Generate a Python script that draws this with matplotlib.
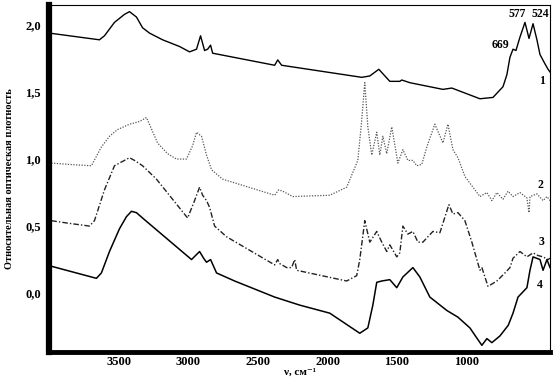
import numpy as np
import matplotlib
matplotlib.use("Agg")
import matplotlib.pyplot as plt

# wavenumber (cm-1) and relative optical density
wn1 = [4000, 3640, 3604, 3532, 3460, 3424, 3374, 3330, 3280, 3186, 3064, 2992, 2942, 2913,
       2884, 2862, 2841, 2826, 2380, 2358, 2330, 1754, 1696, 1631, 1552, 1480, 1466, 1408,
       1170, 1106, 904, 810, 738, 710, 688, 666, 645, 616, 580, 551, 522, 494, 472, 436, 414, 400]
od1 = [1.94, 1.89, 1.92, 2.02, 2.08, 2.10, 2.06, 1.98, 1.94, 1.89, 1.84, 1.80, 1.82, 1.92,
       1.81, 1.82, 1.85, 1.79, 1.70, 1.74, 1.70, 1.61, 1.62, 1.67, 1.58, 1.58, 1.59, 1.57,
       1.52, 1.53, 1.45, 1.46, 1.54, 1.63, 1.76, 1.82, 1.81, 1.91, 2.02, 1.90, 2.01, 1.89,
       1.78, 1.71, 1.67, 1.65]

wn2 = [3986, 3856, 3698, 3626, 3568, 3510, 3424, 3352, 3302, 3222, 3150, 3086, 3014,
       2970, 2942, 2906, 2870, 2834, 2754, 2380, 2351, 2322, 2250, 1984, 1862, 1782,
       1754, 1732, 1710, 1682, 1646, 1624, 1602, 1574, 1538, 1494, 1458, 1422, 1386,
       1358, 1322, 1286, 1228, 1170, 1134, 1098, 1062, 1012, 954, 904, 854, 818, 782,
       738, 702, 666, 616, 566, 551, 544, 494, 450, 422, 400]
od2 = [0.97, 0.96, 0.95, 1.09, 1.17, 1.22, 1.26, 1.28, 1.31, 1.12, 1.04, 1.00, 1.00,
       1.10, 1.20, 1.17, 1.03, 0.92, 0.85, 0.73, 0.77, 0.76, 0.72, 0.73, 0.79, 0.99,
       1.29, 1.57, 1.24, 1.03, 1.20, 1.03, 1.17, 1.04, 1.24, 0.97, 1.07, 0.99, 0.99,
       0.95, 0.96, 1.09, 1.26, 1.12, 1.26, 1.07, 1.01, 0.87, 0.79, 0.72, 0.75, 0.69, 0.75,
       0.70, 0.76, 0.72, 0.75, 0.71, 0.60, 0.72, 0.74, 0.69, 0.72, 0.69]

wn3 = [3986, 3856, 3712, 3676, 3604, 3532, 3460, 3424, 3388, 3330, 3230, 3006, 2956, 2920,
       2898, 2870, 2848, 2812, 2726, 2380, 2358, 2344, 2294, 2258, 2236, 2222, 1862, 1790,
       1768, 1732, 1696, 1646, 1610, 1574, 1552, 1502, 1480, 1458, 1422, 1386, 1350,
       1314, 1242, 1192, 1127, 1098, 1062, 1012, 962, 904, 890, 846, 782, 724, 688,
       666, 616, 566, 522, 486, 450, 414, 400]
od3 = [0.54, 0.52, 0.50, 0.54, 0.77, 0.95, 0.99, 1.01, 0.99, 0.95, 0.85, 0.56, 0.69, 0.79,
       0.73, 0.69, 0.64, 0.50, 0.42, 0.21, 0.25, 0.22, 0.19, 0.19, 0.25, 0.17, 0.09, 0.13,
       0.25, 0.54, 0.38, 0.46, 0.38, 0.31, 0.36, 0.27, 0.30, 0.50, 0.44, 0.46, 0.38,
       0.38, 0.46, 0.45, 0.66, 0.59, 0.60, 0.54, 0.38, 0.17, 0.19, 0.05, 0.09, 0.15, 0.19,
       0.26, 0.31, 0.27, 0.30, 0.28, 0.27, 0.25, 0.26]

wn4 = [3986, 3662, 3626, 3568, 3496, 3446, 3410, 3374, 3330, 2978, 2920, 2891, 2870, 2841,
       2798, 2668, 2380, 2200, 1984, 1768, 1710, 1674, 1646, 1610, 1552, 1502, 1458, 1386,
       1336, 1264, 1142, 1062, 976, 930, 890, 854, 818, 760, 700, 666, 630, 566, 544, 522,
       472, 450, 422, 400]
od4 = [0.20, 0.11, 0.15, 0.31, 0.48, 0.57, 0.61, 0.60, 0.56, 0.25, 0.31, 0.26, 0.23, 0.25,
       0.15, 0.09, -0.03, -0.09, -0.15, -0.30, -0.26, -0.09, 0.08, 0.09, 0.10, 0.04, 0.12,
       0.19, 0.12, -0.03, -0.13, -0.18, -0.26, -0.33, -0.39, -0.34, -0.37, -0.32, -0.24,
       -0.15, -0.03, 0.04, 0.17, 0.27, 0.25, 0.17, 0.25, 0.19]

xticks = [3500, 3000, 2500, 2000, 1500, 1000]
yticks = [0.0, 0.5, 1.0, 1.5, 2.0]
ytick_labels = ["0,0", "0,5", "1,0", "1,5", "2,0"]

plt.rcParams['font.family'] = ['Liberation Serif', 'DejaVu Serif']
plt.rcParams['font.weight'] = 'bold'

fig = plt.figure(figsize=(5.55, 3.82), dpi=100)
ax = fig.add_axes([0.089, 0.0785, 0.902, 0.9085])

ax.plot(wn1, od1, color="black", lw=1.0)
ax.plot(wn2, od2, color="#555555", lw=0.9, linestyle=(0, (1, 1.2)))
ax.plot(wn3, od3, color="#222222", lw=1.0, linestyle=(0, (4, 1.5, 1, 1.5)))
ax.plot(wn4, od4, color="black", lw=1.1)

ax.set_xlim(4000, 400)
ax.set_ylim(-0.44, 2.15)
ax.set_xticks(xticks)
ax.set_xticklabels([str(t) for t in xticks], fontsize=9, fontweight='bold')
ax.set_yticks(yticks)
ax.set_yticklabels(ytick_labels, fontsize=9, fontweight='bold')
ax.tick_params(length=0)
ax.tick_params(axis='x', pad=3)
ax.tick_params(axis='y', pad=6)

ax.spines['left'].set_linewidth(4.5)
ax.spines['bottom'].set_linewidth(3.5)
ax.spines['top'].set_linewidth(0.8)
ax.spines['right'].set_linewidth(0.8)

ax.set_xlabel("ν, см⁻¹", fontsize=8, fontweight='bold')
ax.xaxis.set_label_coords(0.5, -0.045)
ax.set_ylabel("Относительная оптическая плотность", fontsize=7.5, fontweight='bold', labelpad=8)

for txt, x, y in [("669", 753, 1.85), ("577", 638, 2.08), ("524", 472, 2.08),
                  ("1", 458, 1.58), ("2", 472, 0.81), ("3", 458, 0.38), ("4", 472, 0.06)]:
    ax.text(x, y, txt, ha='center', va='center', fontsize=8.5, fontweight='bold')

fig.savefig("out.png", dpi=100)
